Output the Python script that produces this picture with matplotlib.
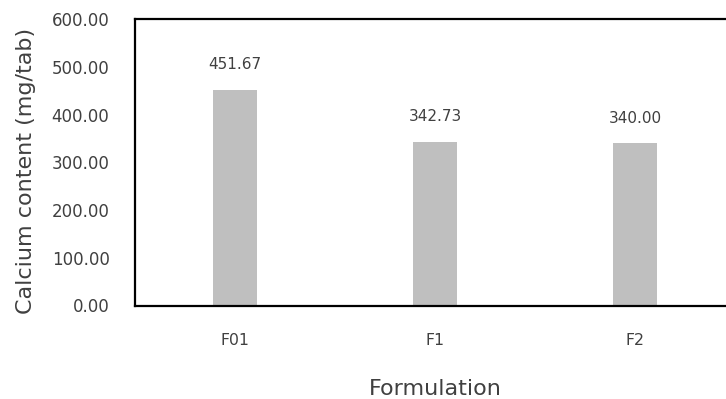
import numpy as np
import matplotlib.pyplot as plt

# Calcium content per formulation (mg/tab)
formulations = ['F01', 'F1', 'F2']
calcium = [451.67, 342.73, 340.00]
yticks = [0, 100, 200, 300, 400, 500, 600]

plt.rcParams['font.family'] = ['DejaVu Sans']
text_col = '#404040'

W, H = 726, 399
fig = plt.figure(figsize=(W / 100, H / 100), dpi=100)
ax = fig.add_axes([134.5 / W, 1 - 305.5 / H, 601 / W, 286.5 / H])

x = np.arange(len(formulations))
ax.bar(x, calcium, width=0.22, color='#BFBFBF', zorder=2)

# value labels above each bar
for xi, v in zip(x, calcium):
    ax.annotate('%.2f' % v, (xi, v), xytext=(0, 18), textcoords='offset points',
                ha='center', va='center', fontsize=11, color=text_col)

ax.set_xlim(-0.5, 2.5)
ax.set_ylim(0, 600)
ax.set_xticks(x)
ax.set_xticklabels(formulations)
ax.set_yticks(yticks)
ax.set_yticklabels(['%.2f' % t for t in yticks])
ax.tick_params(axis='both', length=0, labelcolor=text_col)
ax.tick_params(axis='y', pad=18, labelsize=12)
ax.tick_params(axis='x', pad=19.5, labelsize=11.3)

for side in ['left', 'bottom', 'top']:
    ax.spines[side].set_linewidth(1.6)
    ax.spines[side].set_color('black')
ax.spines['right'].set_visible(False)

# axis titles
fig.text(26 / W, 1 - 171 / H, 'Calcium content (mg/tab)', rotation=90,
         ha='center', va='center', fontsize=16, color=text_col)
fig.text(435 / W, 1 - 395 / H, 'Formulation', ha='center', va='baseline',
         fontsize=16, color=text_col)

fig.savefig('out.png', dpi=100)
